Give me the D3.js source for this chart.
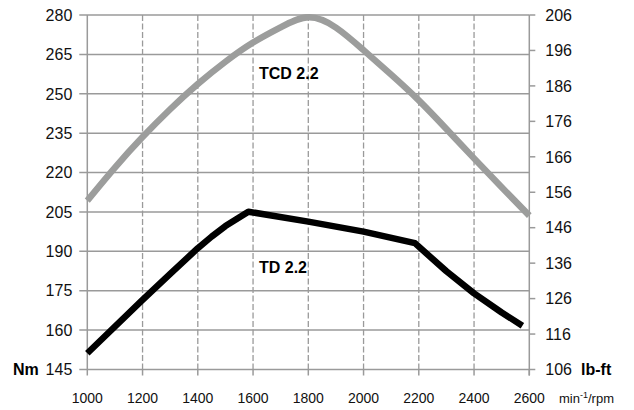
<!DOCTYPE html>
<html>
<head>
<meta charset="utf-8">
<script src="https://cdn.jsdelivr.net/npm/d3@7"></script>
<style>
  body { margin: 0; background: #fff; }
  svg { font-family: "Liberation Sans", Arial, sans-serif; }
  .hgrid { stroke: #9a9a9a; stroke-width: 1.5; }
  .vgrid { stroke: #9a9a9a; stroke-width: 1.3; stroke-dasharray: 6,2.5; }
  .axis { stroke: #9a9a9a; stroke-width: 1.5; }
  .tick { font-size: 16px; fill: #111; }
  .xtick { font-size: 14px; fill: #111; }
  .unit { font-size: 16px; font-weight: bold; fill: #000; }
  .name { font-size: 16px; font-weight: bold; fill: #000; }
</style>
</head>
<body>
<script>
// tick labels
var rpmTicks = [1000, 1200, 1400, 1600, 1800, 2000, 2200, 2400, 2600];
var nmTicks = [145, 160, 175, 190, 205, 220, 235, 250, 265, 280];
var lbftTicks = [106, 116, 126, 136, 146, 156, 166, 176, 186, 196, 206];

// TCD 2.2 torque curve (Nm)
var tcdRpm = [1000, 1100, 1200, 1300, 1400, 1500, 1600, 1700, 1800, 1900, 2000, 2100, 2200, 2300, 2400, 2500, 2600];
var tcdNm = [209.3, 221.9, 233.5, 244.1, 253.7, 262.2, 269.5, 275.3, 279.1, 275.2, 266.6, 257.3, 247.5, 236.6, 225.4, 214.4, 203.6];

// TD 2.2 torque curve (Nm)
var tdRpm = [1000, 1200, 1300, 1400, 1450, 1500, 1583, 1800, 2000, 2186, 2300, 2400, 2500, 2575];
var tdNm = [151.2, 171.5, 181.4, 191.2, 195.6, 199.6, 205.1, 201.3, 197.5, 193.1, 182.4, 174.0, 166.7, 161.7];

var width = 634,
    height = 410;

// plot area edges (note: "top" is taken by window.top)
var plotLeft = 87.3, plotRight = 529.3, plotTop = 15, plotBottom = 369.5;

var x = d3.scaleLinear().domain([1000, 2600]).range([plotLeft, plotRight]);
var y = d3.scaleLinear().domain([145, 280]).range([plotBottom, plotTop]);
var y2 = d3.scaleLinear().domain([106, 206]).range([plotBottom, plotTop]);

var svg = d3.select("body")
    .append("svg")
    .attr("width", width)
    .attr("height", height);

// horizontal grid (solid), with little ticks past the left axis
svg.selectAll(".hgrid")
    .data(nmTicks)
    .enter()
    .append("line")
    .attr("class", "hgrid")
    .attr("x1", plotLeft - 8)
    .attr("x2", plotRight)
    .attr("y1", function (d) { return y(d); })
    .attr("y2", function (d) { return y(d); });

// vertical grid (dashed)
svg.selectAll(".vgrid")
    .data(rpmTicks.slice(1, -1))
    .enter()
    .append("line")
    .attr("class", "vgrid")
    .attr("x1", function (d) { return x(d); })
    .attr("x2", function (d) { return x(d); })
    .attr("y1", plotTop)
    .attr("y2", plotBottom);

// bottom ticks
svg.selectAll(".btick")
    .data(rpmTicks)
    .enter()
    .append("line")
    .attr("class", "axis")
    .attr("x1", function (d) { return x(d); })
    .attr("x2", function (d) { return x(d); })
    .attr("y1", plotBottom)
    .attr("y2", plotBottom + 6);

// axis lines
svg.append("line").attr("class", "axis")
    .attr("x1", plotLeft).attr("x2", plotLeft).attr("y1", plotTop).attr("y2", plotBottom);
svg.append("line").attr("class", "axis")
    .attr("x1", plotRight).attr("x2", plotRight).attr("y1", plotTop).attr("y2", plotBottom + 6);

// right axis ticks
svg.selectAll(".rtick")
    .data(lbftTicks)
    .enter()
    .append("line")
    .attr("class", "axis")
    .attr("x1", plotRight)
    .attr("x2", plotRight + 6)
    .attr("y1", function (d) { return y2(d); })
    .attr("y2", function (d) { return y2(d); });

// tick labels
svg.selectAll(".ylab")
    .data(nmTicks)
    .enter()
    .append("text")
    .attr("class", "tick")
    .attr("x", plotLeft - 15)
    .attr("y", function (d) { return y(d); })
    .attr("dy", "0.36em")
    .attr("text-anchor", "end")
    .text(function (d) { return d; });

svg.selectAll(".y2lab")
    .data(lbftTicks)
    .enter()
    .append("text")
    .attr("class", "tick")
    .attr("x", plotRight + 16)
    .attr("y", function (d) { return y2(d); })
    .attr("dy", "0.36em")
    .text(function (d) { return d; });

svg.selectAll(".xlab")
    .data(rpmTicks)
    .enter()
    .append("text")
    .attr("class", "xtick")
    .attr("x", function (d) { return x(d); })
    .attr("y", 403)
    .attr("text-anchor", "middle")
    .text(function (d) { return d; });

// unit labels
svg.append("text").attr("class", "unit")
    .attr("x", 13).attr("y", y(145)).attr("dy", "0.36em")
    .text("Nm");
svg.append("text").attr("class", "unit")
    .attr("x", 581).attr("y", y2(106)).attr("dy", "0.36em")
    .text("lb-ft");

var rpmLabel = svg.append("text").attr("class", "xtick")
    .attr("x", 559).attr("y", 403)
    .style("font-size", "13px");
rpmLabel.append("tspan").text("min");
rpmLabel.append("tspan").attr("dy", -5).style("font-size", "9px").text("-1");
rpmLabel.append("tspan").attr("dy", 5).text("/rpm");

// curves
var line = d3.line()
    .x(function (d) { return x(d[0]); })
    .y(function (d) { return y(d[1]); });

svg.append("path")
    .datum(d3.zip(tcdRpm, tcdNm))
    .attr("fill", "none")
    .attr("stroke", "#9c9d9c")
    .attr("stroke-width", 6.5)
    .attr("d", line.curve(d3.curveNatural));

svg.append("path")
    .datum(d3.zip(tdRpm, tdNm))
    .attr("fill", "none")
    .attr("stroke", "#000")
    .attr("stroke-width", 6.5)
    .attr("stroke-linejoin", "round")
    .attr("d", line.curve(d3.curveLinear));

// series names
svg.append("text").attr("class", "name")
    .attr("x", 259).attr("y", 79)
    .text("TCD 2.2");
svg.append("text").attr("class", "name")
    .attr("x", 259).attr("y", 272.5)
    .text("TD 2.2");
</script>
</body>
</html>
